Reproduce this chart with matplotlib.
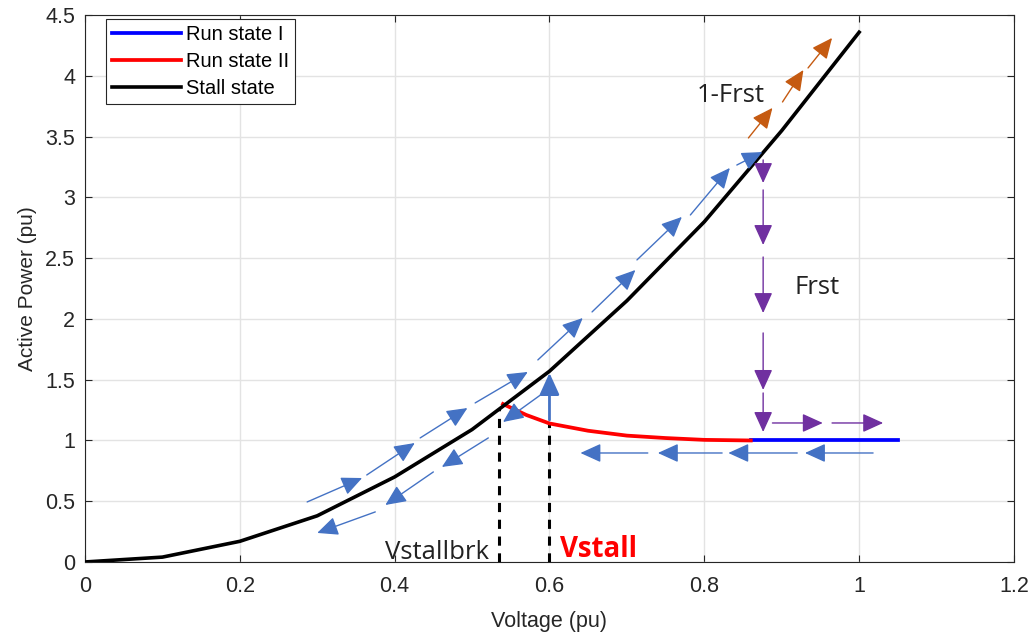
import matplotlib
matplotlib.use('Agg')
import matplotlib.pyplot as plt
from matplotlib.ticker import FormatStrFormatter
from matplotlib.patches import FancyArrowPatch

# stall state curve (black)
stall_v = [0.0, 0.1, 0.2, 0.3, 0.4, 0.5, 0.6, 0.7, 0.8, 0.9, 1.0]
stall_p = [0.0, 0.04, 0.17, 0.38, 0.70, 1.09, 1.57, 2.15, 2.80, 3.55, 4.36]

# run state II (red)
run2_v = [0.54, 0.57, 0.60, 0.65, 0.70, 0.75, 0.80, 0.86]
run2_p = [1.30, 1.21, 1.14, 1.08, 1.04, 1.02, 1.005, 1.0]

# run state I (blue)
run1_v = [0.86, 1.05]
run1_p = [1.0, 1.0]

vstallbrk = 0.535
vstall = 0.60

# arrow segments along the trajectory: (x0, y0, x1, y1)
up_arrows = [
    (0.287, 0.494, 0.358, 0.691),
    (0.364, 0.716, 0.426, 0.979),
    (0.433, 1.021, 0.494, 1.267),
    (0.504, 1.309, 0.572, 1.564),
    (0.585, 1.663, 0.643, 2.008),
    (0.655, 2.058, 0.711, 2.403),
    (0.713, 2.486, 0.771, 2.840),
    (0.782, 2.856, 0.833, 3.243),
    (0.842, 3.267, 0.875, 3.374),
]
orange_arrows = [
    (0.857, 3.490, 0.888, 3.737),
    (0.901, 3.786, 0.928, 4.049),
    (0.934, 4.066, 0.965, 4.313),
]
down_arrows = [
    (0.592, 1.391, 0.540, 1.152),
    (0.521, 1.021, 0.461, 0.782),
    (0.450, 0.741, 0.388, 0.469),
    (0.375, 0.412, 0.300, 0.239),
]
left_arrows = [
    (1.018, 0.897, 0.930, 0.897),
    (0.920, 0.897, 0.831, 0.897),
    (0.823, 0.897, 0.740, 0.897),
    (0.727, 0.897, 0.640, 0.897),
]
purple_arrows = [
    (0.876, 3.309, 0.876, 3.119),
    (0.876, 3.062, 0.876, 2.609),
    (0.876, 2.510, 0.876, 2.049),
    (0.876, 1.885, 0.876, 1.416),
    (0.876, 1.391, 0.876, 1.070),
    (0.888, 1.144, 0.953, 1.144),
    (0.965, 1.144, 1.031, 1.144),
]

plt.rcParams['font.family'] = ['Liberation Sans', 'DejaVu Sans']

fig = plt.figure(figsize=(10.31, 6.34), dpi=100)
ax = fig.add_axes([0.0824, 0.1136, 0.9011, 0.8624])

ax.plot(run1_v, run1_p, color='#0000ff', lw=2.7, label='Run state I', zorder=4)
ax.plot(run2_v, run2_p, color='#ff0000', lw=2.7, label='Run state II', zorder=4)
ax.plot(stall_v, stall_p, color='black', lw=2.6, label='Stall state', zorder=4)

ax.plot([vstallbrk, vstallbrk], [0, 1.27], color='black', lw=2.2, ls=(0, (3, 2.5)), zorder=3)
ax.plot([vstall, vstall], [0, 1.15], color='black', lw=2.2, ls=(0, (3, 2.5)), zorder=3)


def arrow(x0, y0, x1, y1, color, lw=1.0, scale=11.5):
    a = FancyArrowPatch((x0, y0), (x1, y1),
                        arrowstyle='-|>,head_length=1.1,head_width=0.5',
                        mutation_scale=scale, color=color, lw=lw,
                        shrinkA=0, shrinkB=0, zorder=5)
    ax.add_patch(a)


for seg in up_arrows + down_arrows + left_arrows:
    arrow(*seg, color='#4472c4')
for seg in orange_arrows:
    arrow(*seg, color='#c55a11')
for seg in purple_arrows:
    arrow(*seg, color='#7030a0')
arrow(vstall, 1.169, vstall, 1.556, color='#4472c4', lw=2.0, scale=12)

ann_font = ['Open Sans', 'DejaVu Sans']
ax.text(0.790, 3.84, '1-Frst', fontsize=18.5, color='#222222', va='center', family=ann_font)
ax.text(0.917, 2.255, 'Frst', fontsize=18.5, color='#222222', va='center', family=ann_font)
ax.text(0.387, 0.075, 'Vstallbrk', fontsize=18.5, color='#222222', va='center', family=ann_font)
ax.text(0.613, 0.105, 'Vstall', fontsize=20, color='#ff0000', va='center',
        fontweight='bold', family=ann_font)

ax.set_xlim(0, 1.2)
ax.set_ylim(0, 4.5)
ax.set_xticks([0, 0.2, 0.4, 0.6, 0.8, 1.0, 1.2])
ax.set_yticks([0, 0.5, 1, 1.5, 2, 2.5, 3, 3.5, 4, 4.5])
ax.xaxis.set_major_formatter(FormatStrFormatter('%g'))
ax.yaxis.set_major_formatter(FormatStrFormatter('%g'))
ax.grid(True, color='#e3e3e3', lw=1.0)
ax.set_axisbelow(True)
ax.tick_params(direction='in', top=True, right=True, labelsize=15.5,
               colors='#262626', length=5)
ax.tick_params(axis='x', pad=10)
ax.tick_params(axis='y', pad=7)
for s in ax.spines.values():
    s.set_color('#262626')
    s.set_linewidth(0.8)

ax.set_xlabel('Voltage (pu)', fontsize=15.5, color='#262626', labelpad=10)
ax.set_ylabel('Active Power (pu)', fontsize=15, color='#262626', labelpad=6)

leg = ax.legend(loc='upper left', bbox_to_anchor=(0.023, 0.993), fontsize=14.5,
                handlelength=3.4, borderpad=0.3, labelspacing=0.4,
                handletextpad=0.25, borderaxespad=0.0, fancybox=False, framealpha=1)
leg.get_frame().set_edgecolor('#262626')
leg.get_frame().set_linewidth(0.8)

fig.savefig('out.png', dpi=100)
